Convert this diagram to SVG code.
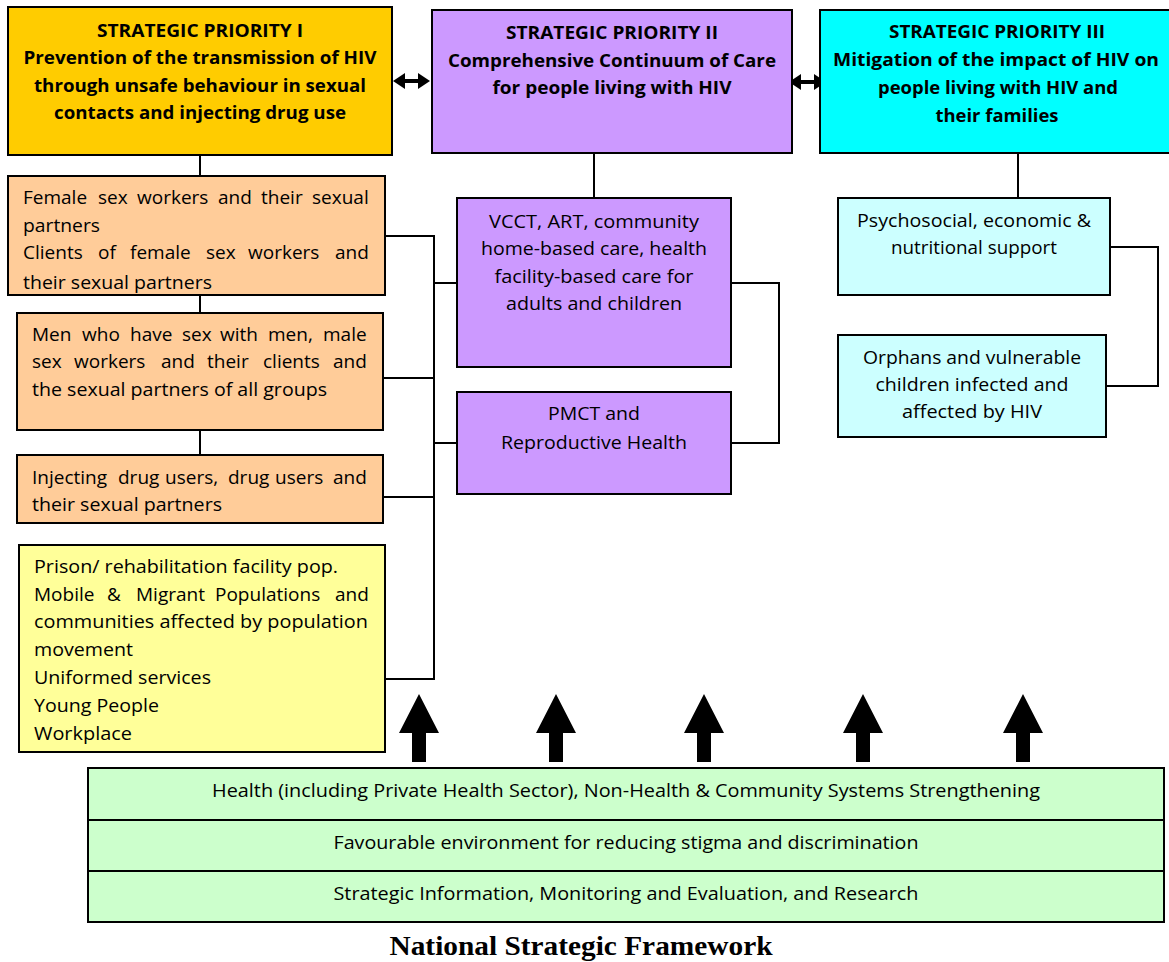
<svg xmlns="http://www.w3.org/2000/svg" width="1169" height="962" viewBox="0 0 1169 962">
<style>
  .box { stroke: #000; stroke-width: 2; }
  .sp1 { fill: #FFCC00; }
  .sp2 { fill: #CC99FF; }
  .sp3 { fill: #00FFFF; }
  .org { fill: #FFCC99; }
  .yel { fill: #FFFF99; }
  .lcy { fill: #CCFFFF; }
  .grn { fill: #CCFFCC; }
  text { font-family: "Open Sans", "Liberation Sans", sans-serif; font-size: 19px; fill: #000; }
  .b { font-weight: bold; font-size: 18.5px; text-anchor: middle; }
  .c { text-anchor: middle; }
  .g { font-size: 18px; text-anchor: middle; }
  .title { font-family: "Liberation Serif", serif; font-weight: bold; font-size: 27px; text-anchor: middle; }
  .conn { stroke: #000; stroke-width: 2; fill: none; }
  .dbl { stroke: #000; stroke-width: 4; fill: none; }
  .up { fill: #000; }
</style>
<defs>
  <marker id="ah" viewBox="0 0 12 16" refX="6" refY="8" markerWidth="12" markerHeight="16" markerUnits="userSpaceOnUse" orient="auto-start-reverse">
    <path d="M0,0 L12,8 L0,16 z" fill="#000"/>
  </marker>
  <clipPath id="clipA"><rect x="8" y="176" width="377" height="118"/></clipPath>
</defs>

<g id="connectors">
  <line class="conn" x1="200" y1="155" x2="200" y2="176"/>
  <line class="conn" x1="200" y1="295" x2="200" y2="313"/>
  <line class="conn" x1="200" y1="430" x2="200" y2="455"/>
  <polyline class="conn" points="385,236 434,236 434,679 385,679"/>
  <line class="conn" x1="383" y1="378" x2="434" y2="378"/>
  <line class="conn" x1="383" y1="497" x2="434" y2="497"/>
  <line class="conn" x1="434" y1="283" x2="457" y2="283"/>
  <line class="conn" x1="434" y1="443" x2="457" y2="443"/>
  <line class="conn" x1="594" y1="153" x2="594" y2="198"/>
  <polyline class="conn" points="731,283 779,283 779,443 731,443"/>
  <line class="conn" x1="1018" y1="153" x2="1018" y2="198"/>
  <polyline class="conn" points="1110,247 1158,247 1158,386 1106,386"/>
  <line class="dbl" x1="399" y1="81" x2="424" y2="81" marker-start="url(#ah)" marker-end="url(#ah)"/>
  <line class="dbl" x1="795" y1="82" x2="820" y2="82" marker-start="url(#ah)" marker-end="url(#ah)"/>
  <g id="up-arrows">
    <polygon class="up" points="419,694 439,733 426,733 426,762 412,762 412,733 399,733"/>
    <polygon class="up" points="556,694 576,733 563,733 563,762 549,762 549,733 536,733"/>
    <polygon class="up" points="704,694 724,733 711,733 711,762 697,762 697,733 684,733"/>
    <polygon class="up" points="863,694 883,733 870,733 870,762 856,762 856,733 843,733"/>
    <polygon class="up" points="1023,694 1043,733 1030,733 1030,762 1016,762 1016,733 1003,733"/>
  </g>
</g>

<g id="priority1">
  <rect class="box sp1" x="8" y="7" width="384" height="148"/>
  <text class="b" x="200" y="37" textLength="206" lengthAdjust="spacingAndGlyphs">STRATEGIC PRIORITY I</text>
  <text class="b" x="200" y="64" textLength="353" lengthAdjust="spacingAndGlyphs">Prevention of the transmission of HIV</text>
  <text class="b" x="200" y="92" textLength="332" lengthAdjust="spacingAndGlyphs">through unsafe behaviour in sexual</text>
  <text class="b" x="200" y="119" textLength="292" lengthAdjust="spacingAndGlyphs">contacts and injecting drug use</text>
</g>

<g id="priority2">
  <rect class="box sp2" x="432" y="10" width="360" height="143"/>
  <text class="b" x="612" y="39" textLength="212" lengthAdjust="spacingAndGlyphs">STRATEGIC PRIORITY II</text>
  <text class="b" x="612" y="67" textLength="328" lengthAdjust="spacingAndGlyphs">Comprehensive Continuum of Care</text>
  <text class="b" x="612" y="94" textLength="239" lengthAdjust="spacingAndGlyphs">for people living with HIV</text>
</g>

<g id="priority3">
  <rect class="box sp3" x="820" y="10" width="360" height="143"/>
  <text class="b" x="997" y="38" textLength="216" lengthAdjust="spacingAndGlyphs">STRATEGIC PRIORITY III</text>
  <text class="b" x="996" y="66" textLength="326" lengthAdjust="spacingAndGlyphs">Mitigation of the impact of HIV on</text>
  <text class="b" x="998" y="94" textLength="240" lengthAdjust="spacingAndGlyphs">people living with HIV and</text>
  <text class="b" x="997" y="122" textLength="123" lengthAdjust="spacingAndGlyphs">their families</text>
</g>

<g id="group-fsw">
  <rect class="box org" x="8" y="176" width="377" height="119"/>
  <g clip-path="url(#clipA)">
    <text y="204"><tspan x="23">Female</tspan><tspan x="98">sex</tspan><tspan x="137">workers</tspan><tspan x="218">and</tspan><tspan x="261">their</tspan><tspan x="312">sexual</tspan></text>
    <text x="23" y="232" textLength="77" lengthAdjust="spacingAndGlyphs">partners</text>
    <text y="259"><tspan x="23">Clients</tspan><tspan x="98">of</tspan><tspan x="130">female</tspan><tspan x="206">sex</tspan><tspan x="248">workers</tspan><tspan x="335">and</tspan></text>
    <text x="23" y="289" textLength="189" lengthAdjust="spacingAndGlyphs">their sexual partners</text>
  </g>
</g>

<g id="group-msm">
  <rect class="box org" x="17" y="313" width="366" height="117"/>
  <text y="341"><tspan x="32">Men</tspan><tspan x="82">who</tspan><tspan x="130">have</tspan><tspan x="182">sex</tspan><tspan x="220">with</tspan><tspan x="268">men,</tspan><tspan x="323">male</tspan></text>
  <text y="368"><tspan x="32">sex</tspan><tspan x="74">workers</tspan><tspan x="161">and</tspan><tspan x="207">their</tspan><tspan x="263">clients</tspan><tspan x="333">and</tspan></text>
  <text x="32" y="396" textLength="295" lengthAdjust="spacingAndGlyphs">the sexual partners of all groups</text>
</g>

<g id="group-idu">
  <rect class="box org" x="17" y="455" width="366" height="68"/>
  <text y="484"><tspan x="32">Injecting</tspan><tspan x="118">drug</tspan><tspan x="165">users,</tspan><tspan x="228">drug</tspan><tspan x="275">users</tspan><tspan x="333">and</tspan></text>
  <text x="32" y="511" textLength="190" lengthAdjust="spacingAndGlyphs">their sexual partners</text>
</g>

<g id="group-other">
  <rect class="box yel" x="19" y="545" width="366" height="207"/>
  <text x="34" y="573" textLength="304" lengthAdjust="spacingAndGlyphs">Prison/ rehabilitation facility pop.</text>
  <text y="601"><tspan x="34">Mobile</tspan><tspan x="107">&amp;</tspan><tspan x="136">Migrant</tspan><tspan x="215">Populations</tspan><tspan x="335">and</tspan></text>
  <text x="34" y="628" textLength="334" lengthAdjust="spacingAndGlyphs">communities affected by population</text>
  <text x="34" y="656" textLength="99" lengthAdjust="spacingAndGlyphs">movement</text>
  <text x="34" y="684" textLength="177" lengthAdjust="spacingAndGlyphs">Uniformed services</text>
  <text x="34" y="712" textLength="125" lengthAdjust="spacingAndGlyphs">Young People</text>
  <text x="34" y="740" textLength="98" lengthAdjust="spacingAndGlyphs">Workplace</text>
</g>

<g id="care">
  <rect class="box sp2" x="457" y="198" width="274" height="169"/>
  <text class="c" x="594" y="228" textLength="210" lengthAdjust="spacingAndGlyphs">VCCT, ART, community</text>
  <text class="c" x="594" y="255" textLength="226" lengthAdjust="spacingAndGlyphs">home-based care, health</text>
  <text class="c" x="594" y="283" textLength="199" lengthAdjust="spacingAndGlyphs">facility-based care for</text>
  <text class="c" x="594" y="310" textLength="176" lengthAdjust="spacingAndGlyphs">adults and children</text>
</g>

<g id="pmct">
  <rect class="box sp2" x="457" y="392" width="274" height="102"/>
  <text class="c" x="594" y="420" textLength="92" lengthAdjust="spacingAndGlyphs">PMCT and</text>
  <text class="c" x="594" y="449" textLength="186" lengthAdjust="spacingAndGlyphs">Reproductive Health</text>
</g>

<g id="support">
  <rect class="box lcy" x="838" y="198" width="272" height="97"/>
  <text class="c" x="974" y="227" textLength="234" lengthAdjust="spacingAndGlyphs">Psychosocial, economic &amp;</text>
  <text class="c" x="974" y="254" textLength="166" lengthAdjust="spacingAndGlyphs">nutritional support</text>
</g>

<g id="orphans">
  <rect class="box lcy" x="838" y="335" width="268" height="102"/>
  <text class="c" x="972" y="364" textLength="218" lengthAdjust="spacingAndGlyphs">Orphans and vulnerable</text>
  <text class="c" x="972" y="391" textLength="193" lengthAdjust="spacingAndGlyphs">children infected and</text>
  <text class="c" x="972" y="418" textLength="140" lengthAdjust="spacingAndGlyphs">affected by HIV</text>
</g>

<g id="systems">
  <rect class="box grn" x="88" y="768" width="1076" height="52"/>
  <text class="g" x="626" y="797" textLength="828" lengthAdjust="spacingAndGlyphs">Health (including Private Health Sector), Non-Health &amp; Community Systems Strengthening</text>
</g>
<g id="environment">
  <rect class="box grn" x="88" y="820" width="1076" height="51"/>
  <text class="g" x="626" y="849" textLength="585" lengthAdjust="spacingAndGlyphs">Favourable environment for reducing stigma and discrimination</text>
</g>
<g id="information">
  <rect class="box grn" x="88" y="871" width="1076" height="51"/>
  <text class="g" x="626" y="900" textLength="585" lengthAdjust="spacingAndGlyphs">Strategic Information, Monitoring and Evaluation, and Research</text>
</g>

<text class="title" x="581" y="955" textLength="383" lengthAdjust="spacingAndGlyphs">National Strategic Framework</text>
</svg>
